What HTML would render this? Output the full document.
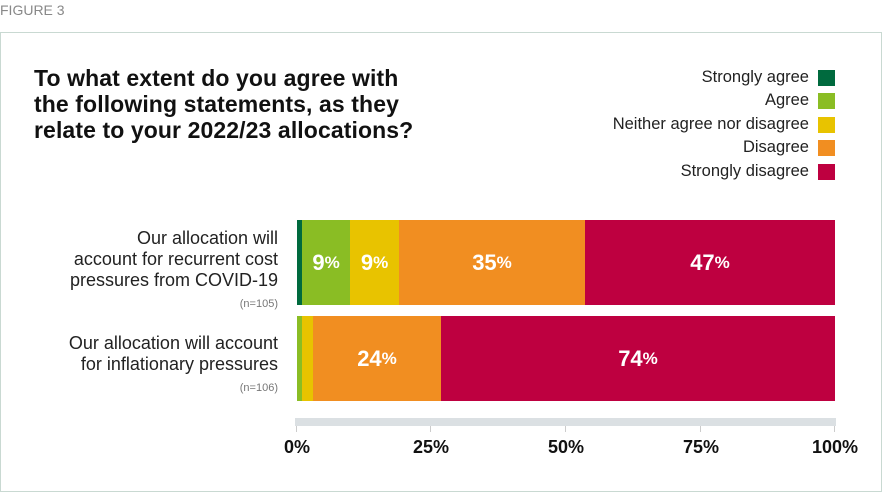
<!DOCTYPE html>
<html><head><style>
body{margin:0;width:883px;height:493px;background:#fff;font-family:"Liberation Sans",sans-serif;position:relative;overflow:hidden}
.a{position:absolute}
.box{left:0;top:32px;width:880px;height:458px;border:1px solid #c9d9d2}
.t{left:34px;top:65px;font-size:23px;font-weight:bold;line-height:26px;color:#111;letter-spacing:0.1px}
.lg{right:74px;font-size:16.5px;color:#222;text-align:right;white-space:nowrap}
.sw{left:818px;width:17px;height:16px}
.seg{position:absolute;top:0;height:100%;color:#fff;font-weight:bold;font-size:22px;display:flex;align-items:center;justify-content:center}
.seg small{font-size:17px}
.lab{right:605px;text-align:right;font-size:18px;line-height:21px;color:#222;white-space:nowrap}
.n{font-size:11px;color:#777}
.tk{top:437px;font-size:18px;font-weight:bold;color:#111;width:80px;text-align:center}
</style></head><body>
<div class="a" style="left:0;top:2px;font-size:14px;color:#888">FIGURE 3</div>
<div class="a box"></div>
<div class="a t">To what extent do you agree with<br>the following statements, as they<br>relate to your 2022/23 allocations?</div>
<div class="a lg" style="top:68px">Strongly agree</div><div class="a sw" style="top:70px;background:#006a3e"></div>
<div class="a lg" style="top:91px">Agree</div><div class="a sw" style="top:93px;background:#8abd24"></div>
<div class="a lg" style="top:115px">Neither agree nor disagree</div><div class="a sw" style="top:117px;background:#e8c300"></div>
<div class="a lg" style="top:138px">Disagree</div><div class="a sw" style="top:140px;background:#f18e21"></div>
<div class="a lg" style="top:162px">Strongly disagree</div><div class="a sw" style="top:164px;background:#be0040"></div>

<div class="a lab" style="top:228px">Our allocation will<br>account for recurrent cost<br>pressures from COVID-19<br><span class="n">(n=105)</span></div>
<div class="a lab" style="top:333px">Our allocation will account<br>for inflationary pressures<br><span class="n">(n=106)</span></div>

<div class="a" style="left:297px;top:220px;width:538px;height:85px">
<div class="seg" style="left:0;width:5px;background:#006a3e"></div>
<div class="seg" style="left:5px;width:48px;background:#8abd24">9<small>%</small></div>
<div class="seg" style="left:53px;width:49px;background:#e8c300">9<small>%</small></div>
<div class="seg" style="left:102px;width:186px;background:#f18e21">35<small>%</small></div>
<div class="seg" style="left:288px;width:250px;background:#be0040">47<small>%</small></div>
</div>
<div class="a" style="left:297px;top:316px;width:538px;height:85px">
<div class="seg" style="left:0;width:5px;background:#8abd24"></div>
<div class="seg" style="left:5px;width:11px;background:#e8c300"></div>
<div class="seg" style="left:16px;width:128px;background:#f18e21">24<small>%</small></div>
<div class="seg" style="left:144px;width:394px;background:#be0040">74<small>%</small></div>
</div>
<div class="a" style="left:295px;top:418px;width:541px;height:8px;background:#dbe0e3"></div>
<div class="a" style="left:296px;top:426px;width:1px;height:6px;background:#ccc"></div>
<div class="a" style="left:430px;top:426px;width:1px;height:6px;background:#ccc"></div>
<div class="a" style="left:565px;top:426px;width:1px;height:6px;background:#ccc"></div>
<div class="a" style="left:700px;top:426px;width:1px;height:6px;background:#ccc"></div>
<div class="a" style="left:834px;top:426px;width:1px;height:6px;background:#ccc"></div>
<div class="a tk" style="left:257px">0%</div>
<div class="a tk" style="left:391px">25%</div>
<div class="a tk" style="left:526px">50%</div>
<div class="a tk" style="left:661px">75%</div>
<div class="a tk" style="left:795px">100%</div>
</body></html>
